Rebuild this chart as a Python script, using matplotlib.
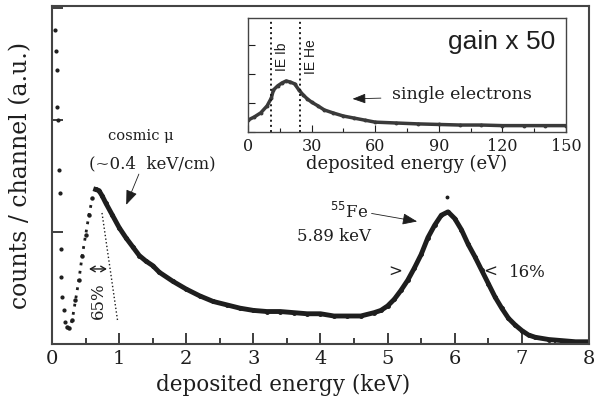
import matplotlib
matplotlib.use("Agg")
import matplotlib.pyplot as plt
from matplotlib.ticker import MultipleLocator, NullFormatter

# main spectrum (keV, arbitrary units)
e_noise = [0.05, 0.06, 0.07, 0.08, 0.09, 0.10, 0.12, 0.13, 0.13, 0.15, 0.18, 0.20]
c_noise = [2.80, 2.62, 2.45, 2.12, 2.00, 1.55, 1.35, 0.85, 0.60, 0.42, 0.30, 0.20]

e_rise = [0.22, 0.25, 0.30, 0.35, 0.40, 0.45, 0.50, 0.55, 0.60]
c_rise = [0.15, 0.14, 0.21, 0.39, 0.57, 0.79, 0.97, 1.15, 1.30]

e_main = [0.65, 0.70, 0.75, 0.80, 0.90, 1.00, 1.10, 1.20, 1.30, 1.40, 1.50, 1.60,
          1.80, 2.00, 2.20, 2.40, 2.60, 2.80, 3.00, 3.20, 3.40, 3.60, 3.80, 4.00,
          4.20, 4.40, 4.60, 4.80, 4.90, 5.00, 5.10, 5.20, 5.30, 5.40, 5.50, 5.60,
          5.70, 5.80, 5.90, 6.00, 6.10, 6.20, 6.30, 6.40, 6.50, 6.60, 6.70, 6.80,
          6.90, 7.00, 7.10, 7.20, 7.40, 7.60, 7.80, 8.00]
c_main = [1.38, 1.37, 1.32, 1.26, 1.15, 1.04, 0.95, 0.87, 0.79, 0.74, 0.70, 0.64,
          0.56, 0.49, 0.43, 0.38, 0.35, 0.32, 0.30, 0.29, 0.29, 0.28, 0.27, 0.27,
          0.25, 0.25, 0.25, 0.28, 0.30, 0.34, 0.40, 0.48, 0.57, 0.68, 0.80, 0.95,
          1.06, 1.15, 1.18, 1.12, 1.02, 0.89, 0.78, 0.66, 0.54, 0.42, 0.32, 0.23,
          0.17, 0.12, 0.08, 0.06, 0.04, 0.03, 0.02, 0.02]

# inset: gain x 50 spectrum (eV)
e_ins = [0, 3, 6, 9, 11, 12, 14, 16, 18, 20, 22, 24, 26, 28, 30, 33, 36, 40,
         45, 50, 55, 60, 70, 80, 90, 100, 110, 120, 130, 140, 150]
c_ins = [0.41, 0.52, 0.66, 0.90, 1.17, 1.45, 1.59, 1.69, 1.76, 1.72, 1.66, 1.45,
         1.28, 1.14, 1.03, 0.90, 0.76, 0.66, 0.55, 0.48, 0.41, 0.34, 0.31, 0.28,
         0.26, 0.24, 0.24, 0.22, 0.22, 0.22, 0.22]
ie_ib = 10.7
ie_he = 24.6

ink = "#1e1e1e"
serif = "DejaVu Serif"

fig = plt.figure(figsize=(5.95, 4.0), dpi=100)
ax = fig.add_axes([0.0874, 0.14, 0.9025, 0.845])

ax.plot(e_noise, c_noise, ls="none", marker="o", ms=2, color=ink)
ax.plot(e_rise, c_rise, ls=(0, (1, 2)), lw=2, marker="o", ms=2.2, color=ink)
ax.plot(e_main, c_main, lw=3.5, color=ink, marker="o", ms=2.5)
ax.plot([5.88], [1.31], ls="none", marker="o", ms=1.8, color=ink)

ax.set_xlim(0, 8)
ax.set_ylim(0, 3.018)
ax.xaxis.set_major_locator(MultipleLocator(1))
ax.xaxis.set_minor_locator(MultipleLocator(0.5))
ax.yaxis.set_major_locator(MultipleLocator(1))
ax.yaxis.set_major_formatter(NullFormatter())
ax.tick_params(which="both", direction="in", color=ink, width=1.2)
ax.tick_params(which="major", length=8)
ax.tick_params(which="minor", length=4)
ax.tick_params(axis="x", labelsize=14, pad=4, labelcolor=ink)
for lab in ax.get_xticklabels():
    lab.set_fontfamily(serif)
for s in ax.spines.values():
    s.set_linewidth(1.5)
    s.set_color("#444444")
ax.set_xlabel("deposited energy (keV)", fontsize=15.5, family=serif, color=ink)
ax.xaxis.set_label_coords(0.43, -0.088)
ax.set_ylabel("counts / channel (a.u.)", fontsize=17, family=serif, color=ink)
ax.yaxis.set_label_coords(-0.036, 0.5)

# cosmic muon annotations
ax.text(1.33, 1.86, "cosmic \u03bc", fontsize=10.5, family=serif, ha="center", va="center", color=ink)
ax.text(1.49, 1.61, "(~0.4  keV/cm)", fontsize=12, family=serif, ha="center", va="center", color=ink)
ax.annotate("", xy=(1.09, 1.22), xytext=(1.31, 1.54),
            arrowprops=dict(arrowstyle="-|>,head_length=0.9,head_width=0.35",
                            lw=0.6, color=ink))
ax.plot([0.745, 0.98], [1.17, 0.196], ls=":", lw=1, color=ink)
ax.annotate("", xy=(0.51, 0.67), xytext=(0.86, 0.67),
            arrowprops=dict(arrowstyle="<->,head_length=0.35,head_width=0.2", lw=1, color=ink))
ax.text(0.69, 0.39, "65%", rotation=90, fontsize=12, family=serif, ha="center", va="center", color=ink)

# Fe55 annotations
ax.text(4.43, 1.18, "$^{55}$Fe", fontsize=12, family=serif, ha="center", va="center", color=ink)
ax.text(4.2, 0.96, "5.89 keV", fontsize=12, family=serif, ha="center", va="center", color=ink)
ax.annotate("", xy=(5.48, 1.09), xytext=(4.72, 1.17),
            arrowprops=dict(arrowstyle="-|>,head_length=0.9,head_width=0.35",
                            lw=0.6, color=ink))
ax.text(5.11, 0.64, ">", fontsize=12, family=serif, ha="center", va="center", color=ink)
ax.text(6.53, 0.64, "<", fontsize=12, family=serif, ha="center", va="center", color=ink)
ax.text(6.80, 0.64, "16%", fontsize=12, family=serif, ha="left", va="center", color=ink)

# inset
ins = fig.add_axes([0.4168, 0.67, 0.5345, 0.285])
ins.plot(e_ins, c_ins, lw=2.5, color="#3a3a3a", marker="o", ms=1.8)
ins.axvline(ie_ib, ls=":", lw=1.4, color=ink)
ins.axvline(ie_he, ls=":", lw=1.4, color=ink)
ins.set_xlim(0, 150)
ins.set_ylim(0, 3.93)
ins.xaxis.set_major_locator(MultipleLocator(30))
ins.xaxis.set_minor_locator(MultipleLocator(15))
ins.yaxis.set_major_locator(MultipleLocator(1))
ins.yaxis.set_major_formatter(NullFormatter())
ins.tick_params(which="both", direction="in", color=ink, width=0.8)
ins.tick_params(which="major", length=5)
ins.tick_params(which="minor", length=3)
ins.tick_params(axis="x", labelsize=11.5, pad=4, labelcolor=ink)
for lab in ins.get_xticklabels():
    lab.set_fontfamily(serif)
for s in ins.spines.values():
    s.set_linewidth(1.0)
    s.set_color("#444444")
ins.set_xlabel("deposited energy (eV)", fontsize=13, family=serif, color=ink, labelpad=0)
ins.text(145, 3.1, "gain x 50", fontsize=19, family="Liberation Sans", ha="right", va="center", color=ink)
ins.text(68, 1.28, "single electrons", fontsize=12.5, family=serif, ha="left", va="center", color=ink)
ins.annotate("", xy=(48, 1.14), xytext=(64, 1.17),
             arrowprops=dict(arrowstyle="-|>,head_length=0.8,head_width=0.3", lw=0.6, color=ink))
ins.text(16, 2.6, "IE Ib", rotation=90, fontsize=10, family="Liberation Sans", ha="center", va="center", color=ink)
ins.text(29.5, 2.6, "IE He", rotation=90, fontsize=10, family="Liberation Sans", ha="center", va="center", color=ink)

fig.savefig("out.png", dpi=100)
